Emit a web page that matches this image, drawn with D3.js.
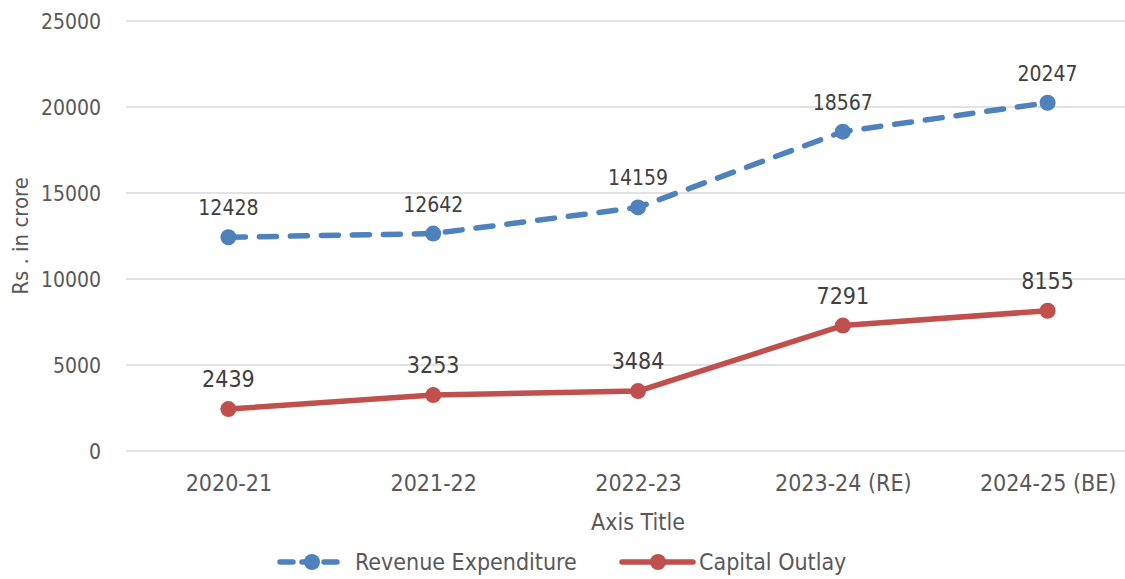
<!DOCTYPE html>
<html>
<head>
<meta charset="utf-8">
<script src="https://cdn.jsdelivr.net/npm/d3@7"></script>
<style>
  body { margin: 0; background: #fff; }
  svg { display: block; overflow: hidden; }
  text { font-family: "DejaVu Sans Condensed", "DejaVu Sans", sans-serif; font-stretch: condensed; }
</style>
</head>
<body>
<div id="chart"></div>
<script>
// chart data
var years = ["2020-21", "2021-22", "2022-23", "2023-24 (RE)", "2024-25 (BE)"];
var revenueExp = [12428, 12642, 14159, 18567, 20247];
var capitalOutlay = [2439, 3253, 3484, 7291, 8155];
var yTicks = [0, 5000, 10000, 15000, 20000, 25000];
var seriesNames = ["Revenue Expenditure", "Capital Outlay"];

var width = 1125, height = 579;
var margin = { top: 21, right: -25, bottom: 128, left: 126 };

var svg = d3.select("#chart").append("svg")
  .attr("width", width)
  .attr("height", height);

var x = d3.scalePoint()
  .domain(years)
  .range([margin.left, width - margin.right])
  .padding(0.5);

var y = d3.scaleLinear()
  .domain([0, 25000])
  .range([height - margin.bottom, margin.top]);

// gridlines
svg.append("g")
  .selectAll("line")
  .data(yTicks)
  .enter().append("line")
  .attr("x1", margin.left)
  .attr("x2", width - margin.right)
  .attr("y1", function(d) { return y(d); })
  .attr("y2", function(d) { return y(d); })
  .attr("stroke", "#d9d9d9")
  .attr("stroke-width", 1.5);

// y axis labels
var yAxis = svg.append("g")
  .attr("transform", "translate(" + (margin.left - 22) + ",0)")
  .call(d3.axisLeft(y).tickValues(yTicks).tickSize(0).tickFormat(d3.format("d")));
yAxis.select(".domain").remove();
yAxis.selectAll("text")
  .attr("fill", "#595959")
  .style("font-size", "21px")
  .attr("dy", "0.35em");

// x axis labels
var xAxis = svg.append("g")
  .attr("transform", "translate(0," + (y(0) + 21) + ")")
  .call(d3.axisBottom(x).tickSize(0));
xAxis.select(".domain").remove();
xAxis.selectAll("text")
  .attr("fill", "#595959")
  .style("font-size", "23px")
  .attr("dy", "0.71em");

// axis titles
svg.append("text")
  .attr("x", x("2022-23"))
  .attr("y", 530)
  .attr("text-anchor", "middle")
  .attr("fill", "#595959")
  .style("font-size", "23px")
  .text("Axis Title");

svg.append("text")
  .attr("transform", "translate(28," + 236 + ") rotate(-90)")
  .attr("text-anchor", "middle")
  .attr("fill", "#595959")
  .style("font-size", "22px")
  .text("Rs . in crore");

var line = d3.line()
  .x(function(d, i) { return x(years[i]); })
  .y(function(d) { return y(d); });

function drawSeries(values, color, dashed) {
  var g = svg.append("g");
  g.append("path")
    .datum(values)
    .attr("d", line)
    .attr("fill", "none")
    .attr("stroke", color)
    .attr("stroke-width", 5.5)
    .attr("stroke-linecap", dashed ? "round" : "butt")
    .attr("stroke-linejoin", "round")
    .attr("stroke-dasharray", dashed ? "17,14" : null);
  g.selectAll("circle")
    .data(values)
    .enter().append("circle")
    .attr("cx", function(d, i) { return x(years[i]); })
    .attr("cy", function(d) { return y(d); })
    .attr("r", 8)
    .attr("fill", color);
  g.selectAll("text")
    .data(values)
    .enter().append("text")
    .attr("x", function(d, i) { return x(years[i]); })
    .attr("y", function(d) { return y(d) - 22; })
    .attr("text-anchor", "middle")
    .attr("fill", "#404040")
    .style("font-size", dashed ? "21px" : "23px")
    .text(function(d) { return d; });
}

drawSeries(revenueExp, "#4f81bd", true);
drawSeries(capitalOutlay, "#c0504d", false);

// legend
var legend = svg.append("g").attr("transform", "translate(0,562)");
var leg1 = legend.append("g");
leg1.append("line")
  .attr("x1", 280).attr("x2", 340).attr("y1", 0).attr("y2", 0)
  .attr("stroke", "#4f81bd").attr("stroke-width", 5.5)
  .attr("stroke-linecap", "round")
  .attr("stroke-dasharray", "13,9");
leg1.append("circle").attr("cx", 312).attr("cy", 0).attr("r", 8).attr("fill", "#4f81bd");
leg1.append("text")
  .attr("x", 355).attr("y", 0).attr("dy", "0.35em")
  .attr("fill", "#595959").style("font-size", "23px")
  .text(seriesNames[0]);

var leg2 = legend.append("g");
leg2.append("line")
  .attr("x1", 622).attr("x2", 693).attr("y1", 0).attr("y2", 0)
  .attr("stroke", "#c0504d").attr("stroke-width", 5.5)
  .attr("stroke-linecap", "round");
leg2.append("circle").attr("cx", 658).attr("cy", 0).attr("r", 8).attr("fill", "#c0504d");
leg2.append("text")
  .attr("x", 699).attr("y", 0).attr("dy", "0.35em")
  .attr("fill", "#595959").style("font-size", "23px")
  .text(seriesNames[1]);
</script>
</body>
</html>
